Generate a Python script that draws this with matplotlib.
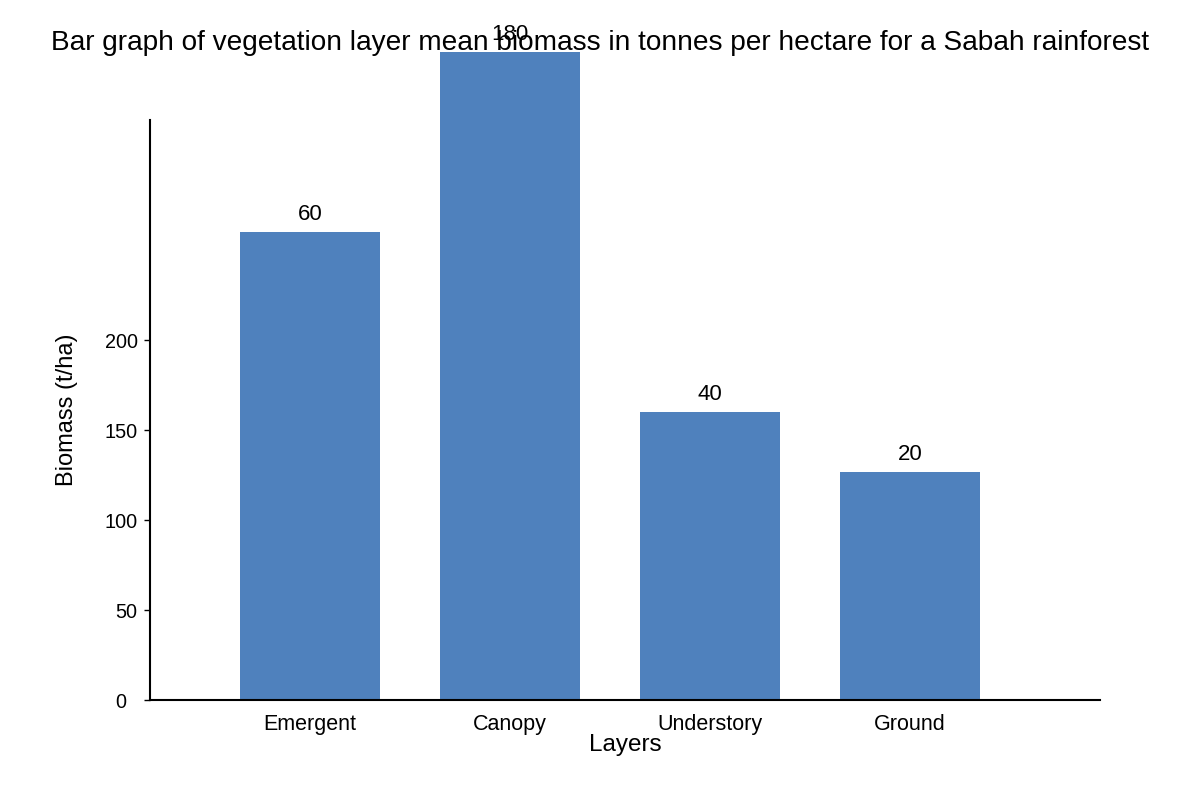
import matplotlib
matplotlib.use("Agg")
import matplotlib.pyplot as plt
from matplotlib.transforms import ScaledTranslation

plt.rcParams['font.family'] = ['Liberation Sans', 'DejaVu Sans']

categories = ["Emergent", "Canopy", "Understory", "Ground"]
bar_heights = [260, 360, 160, 126.7]
value_labels = ["60", "180", "40", "20"]
y_ticks = [0, 50, 100, 150, 200]

fig = plt.figure(figsize=(12, 8), dpi=100)
ax = fig.add_axes([0.125, 0.125, 950/1200, 0.725])

x = list(range(len(categories)))
bars = ax.bar(x, bar_heights, width=0.7, color="#4f81bd", clip_on=False, zorder=2)
for xi, h, lab in zip(x, bar_heights, value_labels):
    ax.annotate(lab, (xi, h), xytext=(0, 7), textcoords="offset pixels",
                ha="center", va="bottom", fontsize=16, annotation_clip=False)

ax.set_xlim(-0.8, 3.95)
ax.set_ylim(0, 580/1.8)
ax.set_yticks(y_ticks)
ax.set_xticks(x)
ax.set_xticklabels(categories, fontsize=15.5)
ax.tick_params(axis='x', length=0, pad=10)
ax.tick_params(axis='y', labelsize=14.3, length=4, width=1, pad=5)
for s in ["top", "right"]:
    ax.spines[s].set_visible(False)
ax.spines["left"].set_linewidth(1.5)
ax.spines["bottom"].set_linewidth(1.5)
ax.spines["bottom"].set_zorder(3)

fig.canvas.draw()
lbl0 = ax.get_yticklabels()[0]
lbl0.set_transform(lbl0.get_transform() + ScaledTranslation(-0.11, 0.0, fig.dpi_scale_trans))

ax.set_xlabel("Layers", fontsize=17.5, labelpad=-1)
ax.set_ylabel("Biomass (t/ha)", fontsize=17, labelpad=19)
fig.text(0.5, 1 - 43/800, "Bar graph of vegetation layer mean biomass in tonnes per hectare for a Sabah rainforest",
         ha="center", va="center", fontsize=20.2)

fig.savefig("out.png", dpi=100)
